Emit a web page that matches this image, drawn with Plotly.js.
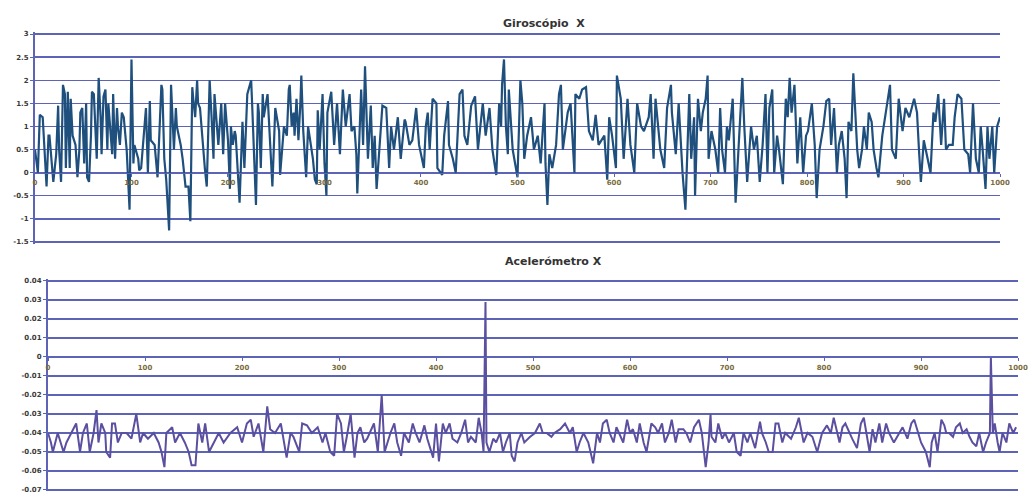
<!DOCTYPE html>
<html>
<head>
<meta charset="utf-8">
<script src="https://cdn.plot.ly/plotly-3.0.1.min.js"></script>
<style>html,body{margin:0;padding:0;background:#fff;}#chart{width:1035px;height:495px;}</style>
</head>
<body>
<div id="chart"></div>
<script>
// ---- Giroscópio X (sample index, value) ----
const gyroX = [0,3,5,8,12,14,15,19,22,24,25,27,29,31,32,34,36,37,39,42,44,46,47,49,51,53,54,56,58,59,61,63,64,66,68,69,71,73,75,76,80,81,83,85,86,88,90,92,95,98,100,102,103,107,108,110,115,117,119,120,124,127,129,131,132,134,136,139,141,144,146,147,151,153,156,159,161,163,164,166,168,169,171,173,176,178,181,183,185,186,190,193,195,197,200,202,203,205,207,208,212,215,217,220,224,225,229,231,232,234,236,237,241,242,246,249,253,254,258,261,263,264,266,268,269,271,273,275,276,278,280,281,283,285,288,290,292,293,295,298,300,302,303,307,310,313,316,319,322,
326,328,331,333,334,338,340,342,345,348,350,352,354,357,360,364,367,369,372,376,379,383,384,388,391,395,398,403,405,407,409,412,416,417,421,422,424,428,429,433,436,440,443,445,448,452,456,459,464,467,471,474,478,481,483,484,486,488,490,491,495,500,503,505,507,510,514,517,521,524,528,529,531,533,536,540,543,545,547,552,555,559,560,564,567,571,574,578,581,584,590,593,595,598,602,603,607,610,614,617,621,624,628,631,636,638,641,643,648,652,655,659,660,664,667,671,674,678,
680,683,684,687,690,692,695,697,698,701,703,705,708,710,712,715,717,719,723,724,726,730,731,733,735,738,742,745,748,751,754,757,759,761,764,766,769,771,775,778,780,782,784,787,790,793,796,799,801,805,808,810,813,817,820,823,825,828,831,833,836,839,841,843,846,848,852,854,857,859,862,864,867,869,872,874,878,880,883,886,888,892,895,899,902,906,911,914,916,918,921,925,928,931,933,936,939,942,944,947,951,953,956,960,963,967,969,972,975,978,980,982,985,987,989,992,994,997,1000];
const gyroY = [0.5,0.0,1.25,1.2,-0.3,0.8,0.8,-0.2,0.4,1.45,0.5,-0.2,1.9,1.7,0.1,1.75,0.1,1.6,0.8,0.6,-0.1,0.5,1.3,1.4,0.2,1.5,-0.1,-0.2,0.8,1.75,1.7,0.9,0.3,2.05,1.2,0.4,1.65,1.8,0.5,1.5,0.4,1.7,0.3,1.4,1.0,0.6,1.3,1.2,0.5,-0.8,2.45,0.2,0.6,0.3,0.05,0.1,1.4,0.0,1.55,0.7,0.6,-0.1,0.8,1.9,1.8,0.3,-0.15,-1.25,1.9,0.5,1.4,1.0,0.6,0.3,-0.3,-0.3,-1.05,1.85,1.6,1.2,2.0,1.5,1.4,0.8,0.1,-0.3,2.0,1.2,0.3,1.7,0.6,1.5,0.4,1.5,0.7,-0.35,1.0,0.6,0.9,0.8,-0.65,1.1,0.1,1.7,2.0,1.5,-0.7,1.5,1.3,0.1,1.7,1.2,1.7,1.3,-0.3,1.4,0.9,-0.05,1.0,0.8,1.8,1.9,1.0,1.3,0.8,1.6,0.7,1.5,2.1,0.9,0.3,-0.1,1.0,0.7,0.3,-0.15,-0.25,1.35,0.5,1.7,0.2,-0.5,1.3,1.75,0.6,1.5,0.4,1.8,1.0,
1.7,0.9,1.0,0.4,-0.45,1.8,0.6,2.3,0.3,1.45,0.1,0.8,-0.35,0.6,1.45,1.4,0.1,1.0,0.5,1.2,0.3,1.15,1.1,0.6,0.7,1.4,0.6,0.1,1.0,1.3,0.5,1.6,1.5,0.1,0.0,-0.05,0.8,1.55,0.6,0.3,0.0,1.7,1.8,0.8,0.6,1.45,1.65,0.5,1.5,0.8,1.4,0.5,-0.05,1.5,1.0,1.9,2.45,1.0,0.4,1.8,0.5,-0.1,2.0,1.5,0.3,0.8,1.2,0.5,0.8,0.2,1.5,0.2,-0.7,0.4,0.1,0.6,1.7,1.9,0.5,1.3,1.5,0.0,1.7,1.6,1.8,1.85,0.9,0.7,1.25,0.6,0.8,-0.15,1.2,0.8,0.1,2.1,1.6,0.3,1.6,0.6,0.0,1.5,1.0,0.9,1.2,1.7,0.3,1.6,0.5,0.1,1.4,1.9,1.3,0.4,1.5,0.0,-0.8,1.7,
0.3,1.2,-0.5,1.6,0.9,1.3,1.6,2.1,0.3,0.9,0.7,0.5,0.0,1.4,0.5,0.0,1.0,0.7,1.6,1.0,-0.65,0.9,1.3,2.05,1.0,-0.2,1.0,0.5,0.8,-0.2,0.6,1.7,0.0,1.4,1.8,0.0,0.8,0.5,-0.25,1.6,1.2,2.05,1.3,1.9,0.2,1.2,0.0,0.8,0.9,1.5,0.6,-0.55,0.5,1.0,1.55,1.6,0.6,1.4,0.0,0.6,0.9,0.3,-0.55,1.1,0.9,2.15,0.5,0.1,0.5,1.0,0.5,1.3,1.1,0.5,0.1,-0.1,0.8,1.1,1.5,1.9,0.5,0.3,1.6,0.9,1.4,1.2,1.6,1.3,0.5,-0.2,0.7,0.3,0.0,1.3,1.1,1.7,0.6,1.6,0.5,0.6,0.6,1.2,1.7,1.6,0.5,0.4,0.0,1.5,0.3,0.0,1.0,0.5,-0.35,1.0,0.3,1.0,0.0,1.0,1.2];

// ---- Acelerómetro X (sample index, value) ----
const accX = [0,3,5,10,16,19,24,29,33,36,40,43,47,50,52,55,59,60,64,66,69,72,76,81,86,91,95,98,103,109,114,117,120,122,128,131,136,141,145,148,152,155,159,162,166,171,176,181,188,195,200,205,209,212,217,222,226,229,234,240,243,246,250,253,259,262,267,272,278,283,286,291,295,298,302,305,308,312,316,319,322,326,329,333,336,340,344,347,350,353,357,360,364,367,372,376,379,383,388,391,397,400,403,407,410,414,417,422,426,430,433,436,441,444,447,449,451,452,455,459,462,466,469,472,476,478,481,484,488,491,497,502,507,510,514,519,522,528,533,538,541,545,548,552,557,560,562,566,569,572,576,579,583,586,590,593,597,600,603,607,610,614,617,622,626,629,633,636,640,643,647,650,655,658,662,666,671,674,678,681,683,684,688,691,695,698,702,707,710,714,717,721,724,729,734,736,740,743,747,750,753,757,760,766,771,774,779,783,788,793,798,803,807,810,816,819,822,826,829,834,838,841,847,850,853,857,860,864,867,872,878,881,886,890,893,897,900,905,909,911,914,917,921,924,926,929,933,936,940,943,947,950,953,957,960,964,967,971,972,974,976,979,981,984,988,991,995,998,1000];
const accY = [-0.04,-0.045,-0.05,-0.04,-0.05,-0.045,-0.04,-0.035,-0.05,-0.04,-0.035,-0.05,-0.04,-0.028,-0.045,-0.035,-0.04,-0.05,-0.053,-0.035,-0.035,-0.045,-0.04,-0.04,-0.043,-0.03,-0.045,-0.04,-0.043,-0.04,-0.045,-0.05,-0.058,-0.04,-0.037,-0.045,-0.04,-0.045,-0.05,-0.057,-0.057,-0.035,-0.045,-0.035,-0.05,-0.045,-0.04,-0.045,-0.04,-0.037,-0.045,-0.035,-0.033,-0.042,-0.035,-0.05,-0.026,-0.038,-0.04,-0.035,-0.045,-0.053,-0.04,-0.042,-0.05,-0.035,-0.036,-0.04,-0.037,-0.045,-0.04,-0.05,-0.052,-0.03,-0.035,-0.05,-0.042,-0.03,-0.053,-0.04,-0.037,-0.045,-0.043,-0.038,-0.035,-0.05,-0.02,-0.05,-0.045,-0.04,-0.035,-0.045,-0.052,-0.04,-0.045,-0.035,-0.04,-0.045,-0.036,-0.043,-0.053,-0.035,-0.055,-0.035,-0.04,-0.035,-0.043,-0.045,-0.04,-0.033,-0.045,-0.042,-0.045,-0.032,-0.04,-0.05,0.029,-0.045,-0.05,-0.043,-0.045,-0.04,-0.05,-0.045,-0.04,-0.052,-0.055,-0.045,-0.04,-0.045,-0.042,-0.04,-0.035,-0.04,-0.04,-0.042,-0.04,-0.038,-0.035,-0.04,-0.037,-0.05,-0.045,-0.04,-0.045,-0.052,-0.056,-0.04,-0.045,-0.035,-0.033,-0.04,-0.045,-0.037,-0.042,-0.045,-0.033,-0.04,-0.038,-0.045,-0.035,-0.045,-0.05,-0.035,-0.037,-0.04,-0.035,-0.045,-0.04,-0.033,-0.045,-0.038,-0.038,-0.04,-0.045,-0.037,-0.033,-0.04,-0.058,-0.045,-0.03,-0.042,-0.045,-0.035,-0.043,-0.04,-0.045,-0.04,-0.05,-0.052,-0.04,-0.045,-0.04,-0.048,-0.034,-0.04,-0.045,-0.05,-0.05,-0.035,-0.035,-0.045,-0.04,-0.043,-0.037,-0.032,-0.045,-0.04,-0.042,-0.05,-0.04,-0.036,-0.04,-0.032,-0.045,-0.037,-0.035,-0.04,-0.043,-0.048,-0.035,-0.032,-0.05,-0.038,-0.045,-0.035,-0.045,-0.035,-0.04,-0.045,-0.04,-0.037,-0.043,-0.035,-0.033,-0.04,-0.045,-0.05,-0.058,-0.045,-0.04,-0.05,-0.033,-0.036,-0.04,-0.04,-0.042,-0.037,-0.035,-0.04,-0.038,-0.042,-0.045,-0.047,-0.04,-0.05,-0.045,-0.04,0.0,-0.04,-0.035,-0.045,-0.05,-0.04,-0.045,-0.035,-0.04,-0.037];

// ---- axes ----
const xTicks = [0,100,200,300,400,500,600,700,800,900,1000];
const gyroTicks = [-1.5,-1,-0.5,0,0.5,1,1.5,2,2.5,3];
const accTicks = [-0.07,-0.06,-0.05,-0.04,-0.03,-0.02,-0.01,0,0.01,0.02,0.03,0.04];
const titles = ["Giroscópio  X", "Acelerómetro X"];

const gridCol = "#5d63b6";
const tickFont = {family: "DejaVu Sans", size: 7, color: "#3a3a3a", weight: 700};
const xTickFont = {family: "DejaVu Sans", size: 7, color: "#7a6c3c", weight: 700};

const gyroRange = [-1.54, 3.04], accRange = [-0.0708, 0.0408];
const yDomTop = [0.5074, 0.9350], yDomBot = [0.0071, 0.4354];
function zeroPos(dom, rng){ return dom[0] + (0 - rng[0]) / (rng[1] - rng[0]) * (dom[1] - dom[0]); }

const traces = [
  {x: gyroX, y: gyroY, type: "scatter", mode: "lines", xaxis: "x", yaxis: "y",
   line: {color: "#1f4f7c", width: 2.2}, hoverinfo: "skip"},
  {x: accX, y: accY, type: "scatter", mode: "lines", xaxis: "x2", yaxis: "y2",
   line: {color: "#5b4f9f", width: 2}, hoverinfo: "skip"}
];

const yCommon = {showgrid: true, gridcolor: gridCol, gridwidth: 1.3, zeroline: false,
  showline: true, linecolor: gridCol, linewidth: 2, ticks: "outside", ticklen: 3,
  tickcolor: gridCol, tickfont: tickFont, fixedrange: true};
const xCommon = {range: [0, 1000], tickvals: xTicks, ticktext: xTicks.map(String),
  showgrid: false, zeroline: false, showline: true, linecolor: gridCol, linewidth: 1.3,
  ticks: "outside", ticklen: 3, tickcolor: gridCol, tickfont: xTickFont, anchor: "free", fixedrange: true};

const layout = {
  width: 1035, height: 495,
  margin: {l: 0, r: 0, t: 0, b: 0},
  paper_bgcolor: "#ffffff", plot_bgcolor: "#ffffff",
  showlegend: false,
  xaxis: Object.assign({}, xCommon, {domain: [0.0338, 0.9662], position: zeroPos(yDomTop, gyroRange)}),
  yaxis: Object.assign({}, yCommon, {domain: yDomTop, range: gyroRange, tickvals: gyroTicks,
    ticktext: gyroTicks.map(String), anchor: "x"}),
  xaxis2: Object.assign({}, xCommon, {domain: [0.0464, 0.9836], position: zeroPos(yDomBot, accRange)}),
  yaxis2: Object.assign({}, yCommon, {domain: yDomBot, range: accRange, tickvals: accTicks,
    ticktext: accTicks.map(v => String(v)), anchor: "x2"}),
  annotations: [
    {text: titles[0], xref: "paper", yref: "paper", x: 0.526, y: 0.97, showarrow: false,
     font: {family: "DejaVu Sans", size: 11, color: "#333333", weight: 700}},
    {text: titles[1], xref: "paper", yref: "paper", x: 0.535, y: 0.471, showarrow: false,
     font: {family: "DejaVu Sans", size: 11, color: "#333333", weight: 700}}
  ]
};

Plotly.newPlot("chart", traces, layout, {displayModeBar: false, staticPlot: true});
</script>
</body>
</html>
